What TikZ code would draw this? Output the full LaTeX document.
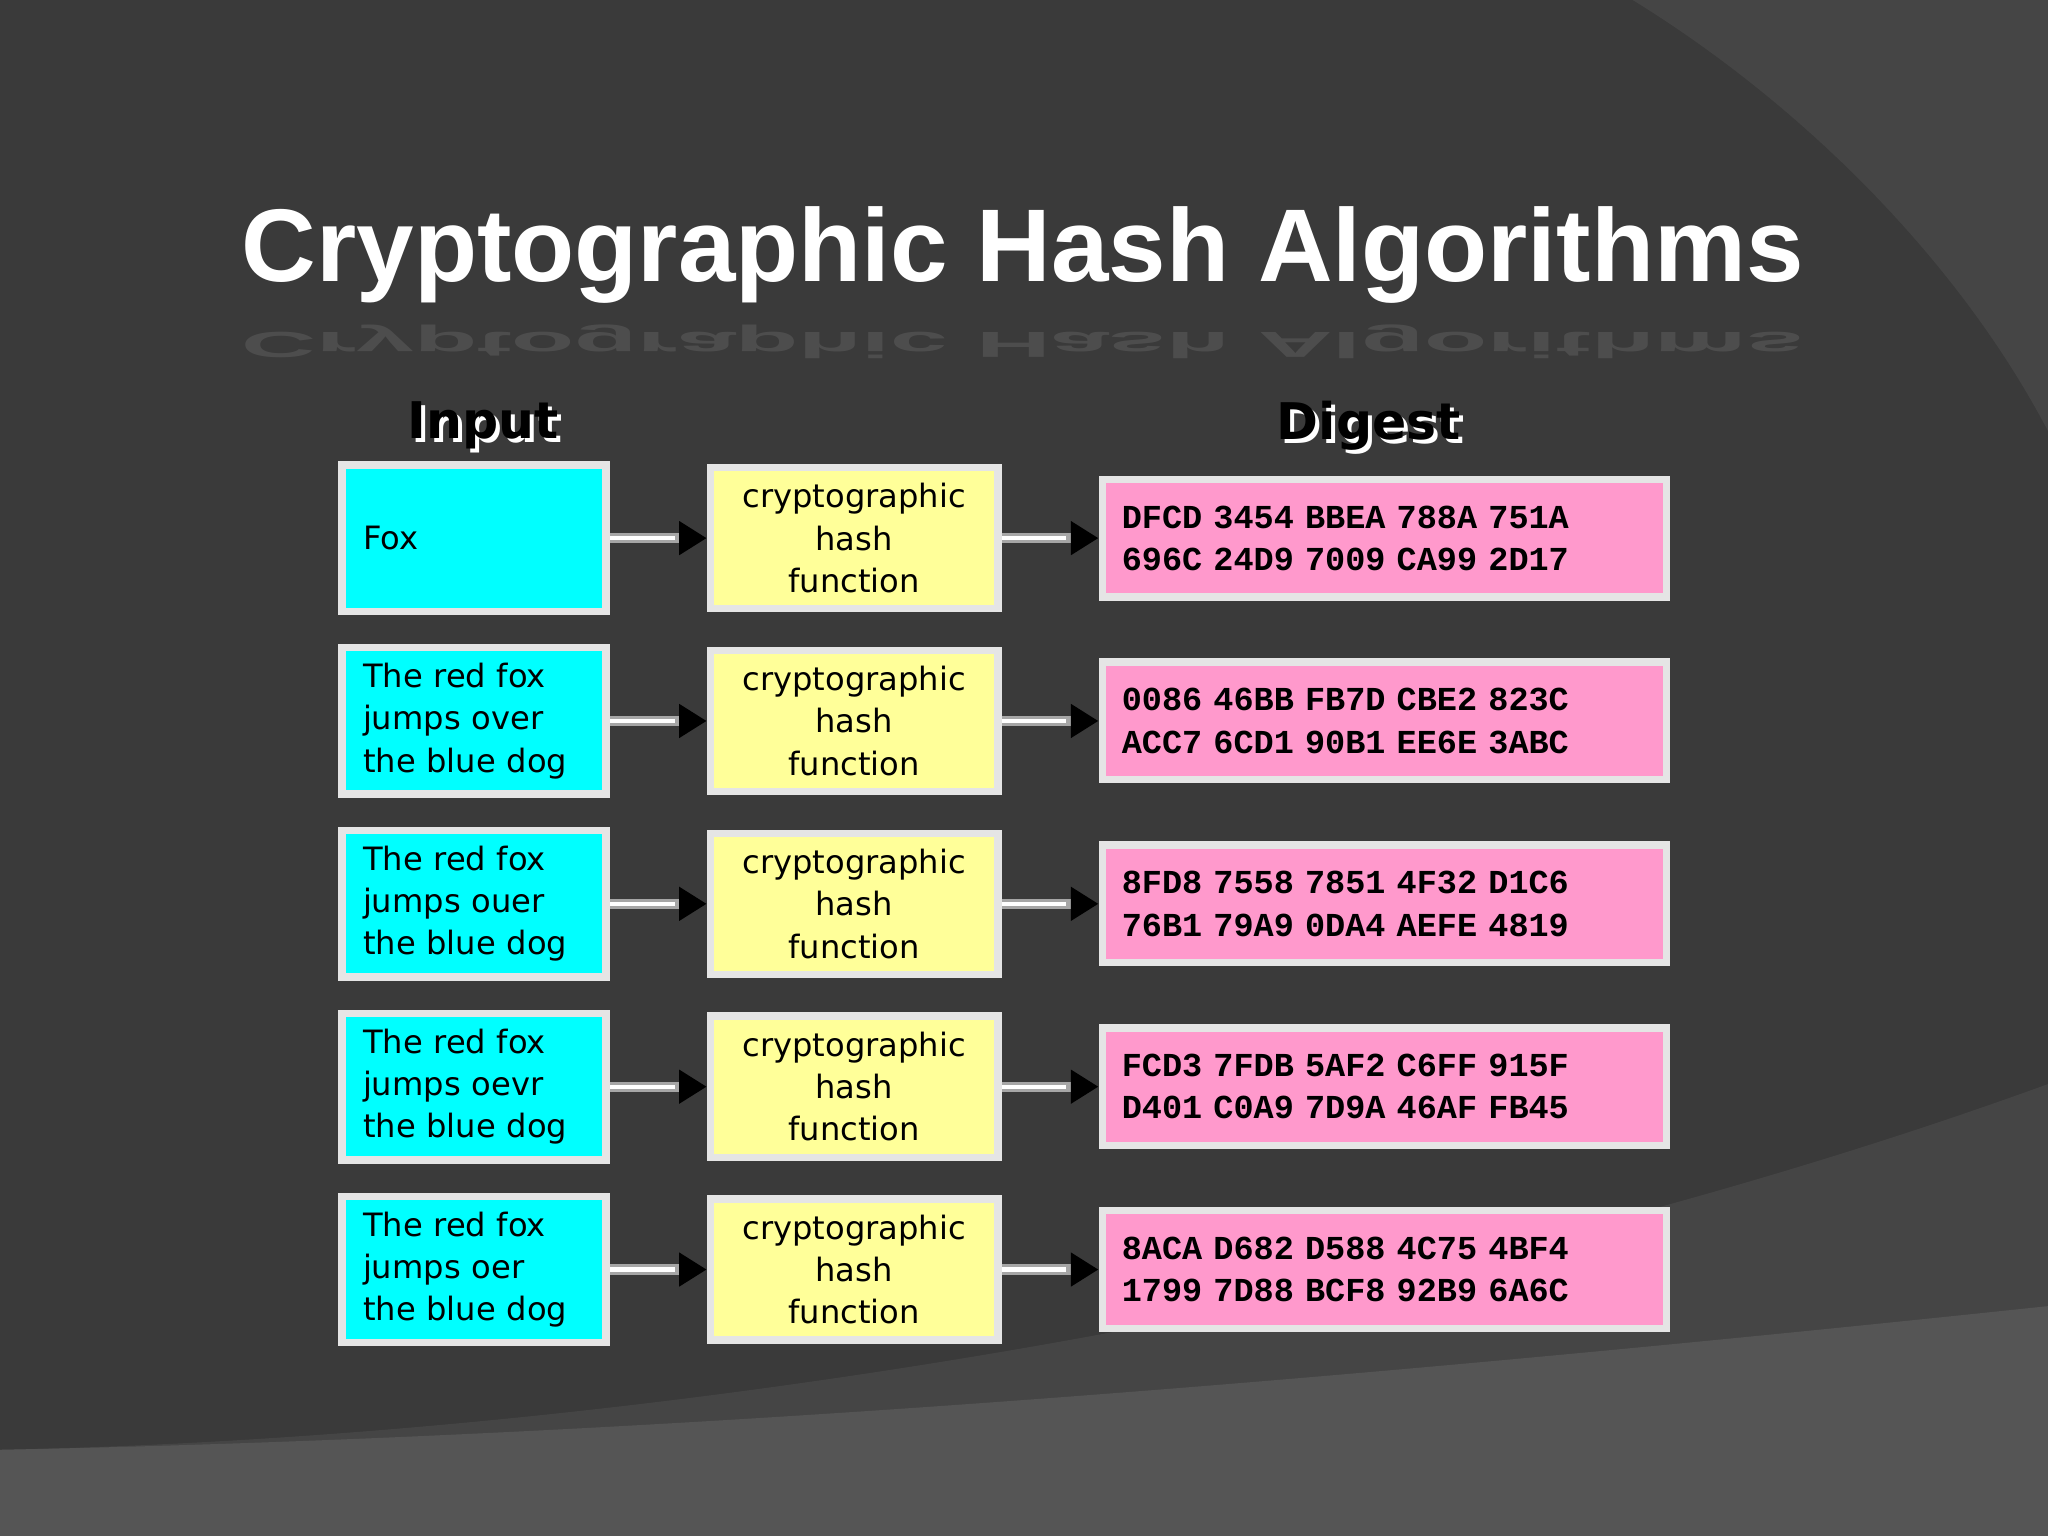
\documentclass[tikz,border=0pt]{standalone}
\usepackage{fontspec}
\setmainfont{DejaVu Sans}
\newfontfamily\titlefont{Liberation Sans}
\newfontfamily\digfont{Liberation Mono}
\usetikzlibrary{arrows.meta,calc}
\definecolor{bgdark}{HTML}{3A3A3A}
\definecolor{bgmid}{HTML}{454545}
\definecolor{bglight}{HTML}{555555}
\definecolor{incol}{HTML}{00FFFF}
\definecolor{hashcol}{HTML}{FFFF99}
\definecolor{digcol}{HTML}{FF99CC}
\tikzset{
 frame/.style={draw=white!80!gray,line width=1.6pt,inner sep=0pt},
 inbox/.style={frame,fill=incol,minimum width=2.02cm,minimum height=1.12cm,font=\fontsize{7}{9.2}\selectfont,align=left,text width=1.7cm},
 hashbox/.style={frame,fill=hashcol,minimum width=2.2cm,minimum height=1.08cm,font=\fontsize{7}{9.2}\selectfont,align=center},
 digbox/.style={frame,fill=digcol,minimum width=4.32cm,minimum height=0.9cm,font=\digfont\bfseries\fontsize{7.3}{9.2}\selectfont,align=left,text width=4.02cm},
 hdr/.style={font=\bfseries\fontsize{11}{13}\selectfont,text=black},
 conn/.style={draw=gray!70,line width=2.2pt,-{Triangle[length=6pt,width=7pt,color=black,fill=black]}},
 conninner/.style={draw=white,line width=0.9pt},
}
\begin{document}
\begin{tikzpicture}[x=0.01cm,y=-0.01cm]
\useasboundingbox (0,0) rectangle (1568,1176);
\fill[bgdark] (0,0) rectangle (1568,1176);
\fill[bgmid] (1250,0) .. controls (1380,80) and (1500,200) .. (1568,330) -- (1568,0) -- cycle;
\fill[bgmid] (0,1110) .. controls (500,1100) and (1100,1000) .. (1568,830) -- (1568,1176) -- (0,1176) -- cycle;
\fill[bglight] (0,1110) .. controls (500,1100) and (1000,1060) .. (1568,1000) -- (1568,1176) -- (0,1176) -- cycle;
\node[text=gray!70,font=\titlefont\bfseries\fontsize{22.5}{28}\selectfont,yscale=-0.35,opacity=0.18] at (783,262) {Cryptographic Hash Algorithms};
\node[text=white,font=\titlefont\bfseries\fontsize{22.5}{28}\selectfont] (title) at (783,195) {Cryptographic Hash Algorithms};
\node[hdr,text=white] at (373,329) {Input};
\node[hdr] (inh) at (370,326) {Input};
\node[hdr,text=white] at (1051,329) {Digest};
\node[hdr] (dgh) at (1048,326) {Digest};
\foreach \i/\txt/\da/\db in {
 0/{Fox}/{DFCD 3454 BBEA 788A 751A}/{696C 24D9 7009 CA99 2D17},
 1/{The red fox\\jumps over\\the blue dog}/{0086 46BB FB7D CBE2 823C}/{ACC7 6CD1 90B1 EE6E 3ABC},
 2/{The red fox\\jumps ouer\\the blue dog}/{8FD8 7558 7851 4F32 D1C6}/{76B1 79A9 0DA4 AEFE 4819},
 3/{The red fox\\jumps oevr\\the blue dog}/{FCD3 7FDB 5AF2 C6FF 915F}/{D401 C0A9 7D9A 46AF FB45},
 4/{The red fox\\jumps oer\\the blue dog}/{8ACA D682 D588 4C75 4BF4}/{1799 7D88 BCF8 92B9 6A6C}}{
 \pgfmathsetmacro\yy{412+140*\i}
 \node[inbox] (in\i) at (363,\yy) {\txt};
 \node[hashbox] (h\i) at (654,\yy) {cryptographic\\hash\\function};
 \node[digbox] (d\i) at (1060,\yy) {\da\\\db};
 \draw[conn] (in\i.east) -- (h\i.west);
 \draw[conninner,shorten >=7pt] (in\i.east) -- (h\i.west);
 \draw[conn] (h\i.east) -- (d\i.west);
 \draw[conninner,shorten >=7pt] (h\i.east) -- (d\i.west);
}
\end{tikzpicture}
\end{document}
